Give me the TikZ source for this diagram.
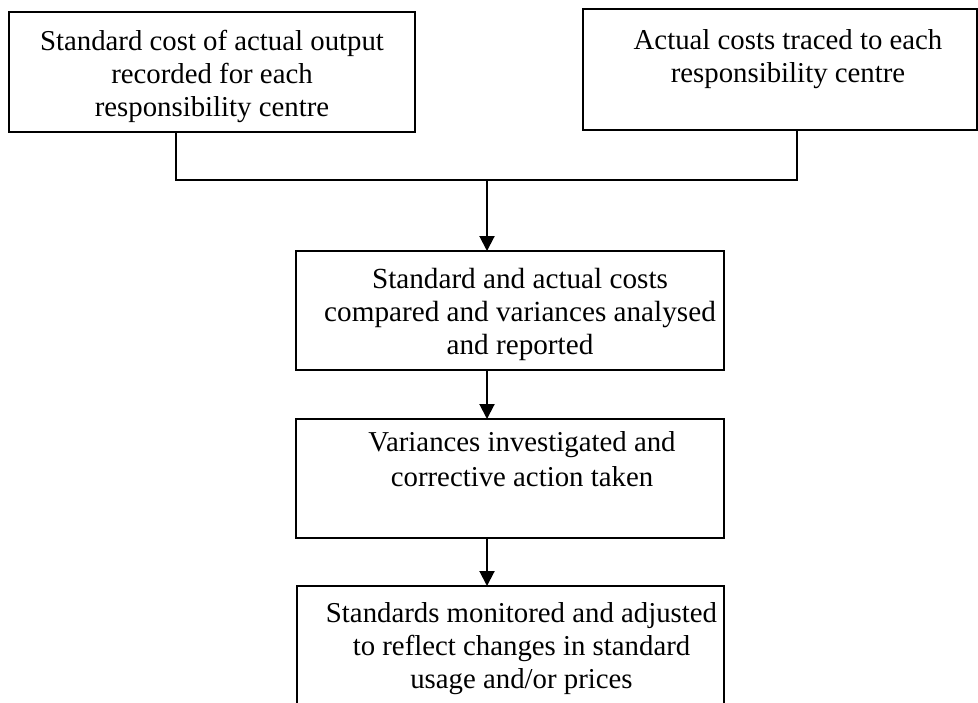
\documentclass[tikz,border=0pt]{standalone}
\usepackage{fontspec}
\setmainfont{Liberation Serif}
\usetikzlibrary{arrows.meta}
\tikzset{
  box/.style={draw, line width=1.3pt, rectangle, inner sep=0pt, outer sep=0pt},
  label/.style={anchor=north, inner sep=0pt, align=center,
    font=\fontsize{14.4}{16.5}\selectfont},
  link/.style={line width=1pt},
  flow/.style={line width=1pt, -{Triangle[length=7.5pt,width=7.5pt]}}
}
\begin{document}
\begin{tikzpicture}[x=0.5pt, y=-0.5pt]
\useasboundingbox (0,0) rectangle (978,702);
\begin{scope}
\clip (0,0) rectangle (978,702);

% boxes
\node[box, minimum width=203pt, minimum height=60pt] (b1) at (212,72) {};
\node[box, minimum width=197pt, minimum height=60.5pt] (b2) at (780,69.5) {};
\node[box, minimum width=214pt, minimum height=59.5pt] (b3) at (510,310.5) {};
\node[box, minimum width=214pt, minimum height=59.5pt] (b4) at (510,478.5) {};
\node[box, minimum width=213.5pt, minimum height=80pt] (b5) at (510.5,666) {};

% texts
\node[label] (t1) at ([yshift=-9pt]b1.north)
  {Standard cost of actual output\\recorded for each\\responsibility centre};
\node[label] (t2) at ([xshift=4pt,yshift=-10pt]b2.north)
  {Actual costs traced to each\\responsibility centre};
\node[label, font=\fontsize{14.6}{16.5}\selectfont] (t3) at ([xshift=5pt,yshift=-8.5pt]b3.north)
  {Standard and actual costs\\compared and variances analysed\\and reported};
\node[label, font=\fontsize{14.4}{17.5}\selectfont] (t4) at ([xshift=6pt,yshift=-6pt]b4.north)
  {Variances investigated and\\corrective action taken};
\node[label] (t5) at ([xshift=5.5pt,yshift=-8pt]b5.north)
  {Standards monitored and adjusted\\to reflect changes in standard\\usage and/or prices};

% connectors
\coordinate (jl) at (176,180);
\coordinate (jr) at (797,180);
\coordinate (jm) at (487,180);
\draw[link] (b1.south -| jl) -- (jl) -- (jr) -- (b2.south -| jr);
\draw[flow] (jm) -- (jm |- b3.north);
\draw[flow] (b3.south -| jm) -- (jm |- b4.north);
\draw[flow] (b4.south -| jm) -- (jm |- b5.north);
\end{scope}
\end{tikzpicture}
\end{document}
